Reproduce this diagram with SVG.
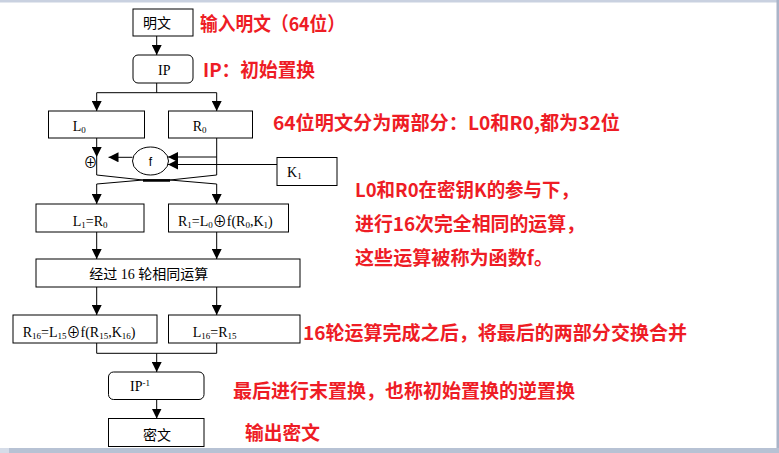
<svg xmlns="http://www.w3.org/2000/svg" width="779" height="453" viewBox="0 0 779 453">
<style>
.box{fill:#fff;stroke:#000;stroke-width:1}
.ln{fill:none;stroke:#000;stroke-width:1}
.t{font-family:"Liberation Serif","Noto Sans CJK SC",serif;font-size:14px;fill:#000}
.sub{font-size:9px}
.r{font-family:"Noto Sans CJK SC","Liberation Sans",sans-serif;font-weight:bold;font-size:19px;fill:#ee1c25}
</style>
<defs>
<marker id="ah" markerWidth="10" markerHeight="10" refX="10" refY="5" orient="auto" markerUnits="userSpaceOnUse">
<path d="M0,0 L10,5 L0,10 z" fill="#000"/>
</marker>
</defs>
<rect x="0" y="0" width="779" height="453" fill="#fff"/>
<rect x="0" y="0" width="779" height="2.5" fill="#c9d1e0"/>
<rect x="776.5" y="0" width="2.5" height="453" fill="#aab4c8"/>
<rect x="0" y="448" width="779" height="5" fill="#b7c2d4"/>
<rect x="0" y="448" width="9" height="5" fill="#d5dce8"/>

<g id="connectors">
<path class="ln" d="M156.7,36 V55" marker-end="url(#ah)"/>
<path class="ln" d="M156.7,83 V92.7"/>
<path class="ln" d="M96.7,92.7 H216.7"/>
<path class="ln" d="M96.7,92.7 V111" marker-end="url(#ah)"/>
<path class="ln" d="M216.7,92.7 V111" marker-end="url(#ah)"/>
<path class="ln" d="M96.7,138 V157" marker-end="url(#ah)"/>
<path class="ln" d="M96.7,157 V175"/>
<path class="ln" d="M216.7,138 V175"/>
<path class="ln" d="M216.7,157 H168" marker-end="url(#ah)"/>
<path class="ln" d="M277,164.5 H168" marker-end="url(#ah)"/>
<path class="ln" d="M132.5,157.3 H108.5" marker-end="url(#ah)"/>
<path class="ln" d="M96.7,175 L143,180 L170,180 L216.7,184 V204" marker-end="url(#ah)"/>
<path class="ln" d="M216.7,175 L170,180 L143,180 L96.7,184 V204" marker-end="url(#ah)"/>
<path d="M143,180.5 H170" stroke="#000" stroke-width="2.5"/>
<path class="ln" d="M96.7,232 V259" marker-end="url(#ah)"/>
<path class="ln" d="M216.7,232 V259" marker-end="url(#ah)"/>
<path class="ln" d="M96.7,287 V315" marker-end="url(#ah)"/>
<path class="ln" d="M216.7,287 V315" marker-end="url(#ah)"/>
<path class="ln" d="M96.7,343 V353.3 H216.7 V343"/>
<path class="ln" d="M156.7,353.3 V372" marker-end="url(#ah)"/>
<path class="ln" d="M156.7,399.5 V418.5" marker-end="url(#ah)"/>
</g>

<g id="plain">
<rect class="box" x="133" y="9" width="60" height="27"/>
<text class="t" x="157" y="28" text-anchor="middle">明文</text>
</g>
<g id="ip">
<rect class="box" x="133" y="55" width="60" height="28" rx="5"/>
<text class="t" x="158" y="75">IP</text>
</g>
<g id="l0">
<rect class="box" x="48.5" y="111" width="96" height="27"/>
<text class="t" x="72.7" y="131">L<tspan class="sub" dy="2">0</tspan></text>
</g>
<g id="r0">
<rect class="box" x="168.5" y="111" width="84" height="27"/>
<text class="t" x="192.7" y="131">R<tspan class="sub" dy="2">0</tspan></text>
</g>
<g id="xor">
<text class="t" x="90.5" y="166.5" text-anchor="middle" font-size="13">⊕</text>
</g>
<g id="f">
<ellipse class="box" cx="150.5" cy="161" rx="18" ry="14"/>
<text x="150.5" y="166" text-anchor="middle" font-family="'Liberation Sans',sans-serif" font-size="12">f</text>
</g>
<g id="k1">
<rect class="box" x="277" y="157.5" width="60" height="28"/>
<text class="t" x="287" y="177">K<tspan class="sub" dy="2">1</tspan></text>
</g>
<g id="l1">
<rect class="box" x="36" y="204" width="108" height="28"/>
<text class="t" x="72.7" y="226">L<tspan class="sub" dy="2">1</tspan><tspan dy="-2">=R</tspan><tspan class="sub" dy="2">0</tspan></text>
</g>
<g id="r1">
<rect class="box" x="168.5" y="204" width="120" height="28"/>
<text class="t" x="178" y="226">R<tspan class="sub" dy="2">1</tspan><tspan dy="-2">=L</tspan><tspan class="sub" dy="2">0</tspan><tspan dy="-2">⊕f(R</tspan><tspan class="sub" dy="2">0</tspan><tspan dy="-2">,K</tspan><tspan class="sub" dy="2">1</tspan><tspan dy="-2">)</tspan></text>
</g>
<g id="rounds">
<rect class="box" x="36" y="259" width="264" height="28"/>
<text class="t" x="89.3" y="279">经过 16 轮相同运算</text>
</g>
<g id="r16">
<rect class="box" x="13" y="315" width="144" height="28"/>
<text class="t" x="22.7" y="336.5">R<tspan class="sub" dy="2">16</tspan><tspan dy="-2">=L</tspan><tspan class="sub" dy="2">15</tspan><tspan dy="-2">⊕f(R</tspan><tspan class="sub" dy="2">15</tspan><tspan dy="-2">,K</tspan><tspan class="sub" dy="2">16</tspan><tspan dy="-2">)</tspan></text>
</g>
<g id="l16">
<rect class="box" x="168.5" y="315" width="131.5" height="28"/>
<text class="t" x="192.7" y="336.5">L<tspan class="sub" dy="2">16</tspan><tspan dy="-2">=R</tspan><tspan class="sub" dy="2">15</tspan></text>
</g>
<g id="ipinv">
<rect class="box" x="108.5" y="372" width="95.5" height="27.5" rx="5"/>
<text class="t" x="130" y="391">IP<tspan class="sub" dy="-5">-1</tspan></text>
</g>
<g id="cipher">
<rect class="box" x="108.5" y="418.5" width="95.5" height="28"/>
<text class="t" x="157" y="440" text-anchor="middle">密文</text>
</g>

<g id="notes">
<text class="r" x="200" y="31" textLength="145" lengthAdjust="spacingAndGlyphs">输入明文（64位）</text>
<text class="r" x="203" y="77" textLength="112" lengthAdjust="spacingAndGlyphs">IP：初始置换</text>
<text class="r" x="273" y="130" textLength="347" lengthAdjust="spacingAndGlyphs">64位明文分为两部分：L0和R0,都为32位</text>
<text class="r" x="355" y="197" textLength="224" lengthAdjust="spacingAndGlyphs">L0和R0在密钥K的参与下，</text>
<text class="r" x="355" y="231" textLength="230" lengthAdjust="spacingAndGlyphs">进行16次完全相同的运算，</text>
<text class="r" x="355" y="265" textLength="198" lengthAdjust="spacingAndGlyphs">这些运算被称为函数f。</text>
<text class="r" x="303" y="340" textLength="384" lengthAdjust="spacingAndGlyphs">16轮运算完成之后，将最后的两部分交换合并</text>
<text class="r" x="233" y="398" textLength="342" lengthAdjust="spacingAndGlyphs">最后进行末置换，也称初始置换的逆置换</text>
<text class="r" x="245" y="440" textLength="75" lengthAdjust="spacingAndGlyphs">输出密文</text>
</g>
</svg>
